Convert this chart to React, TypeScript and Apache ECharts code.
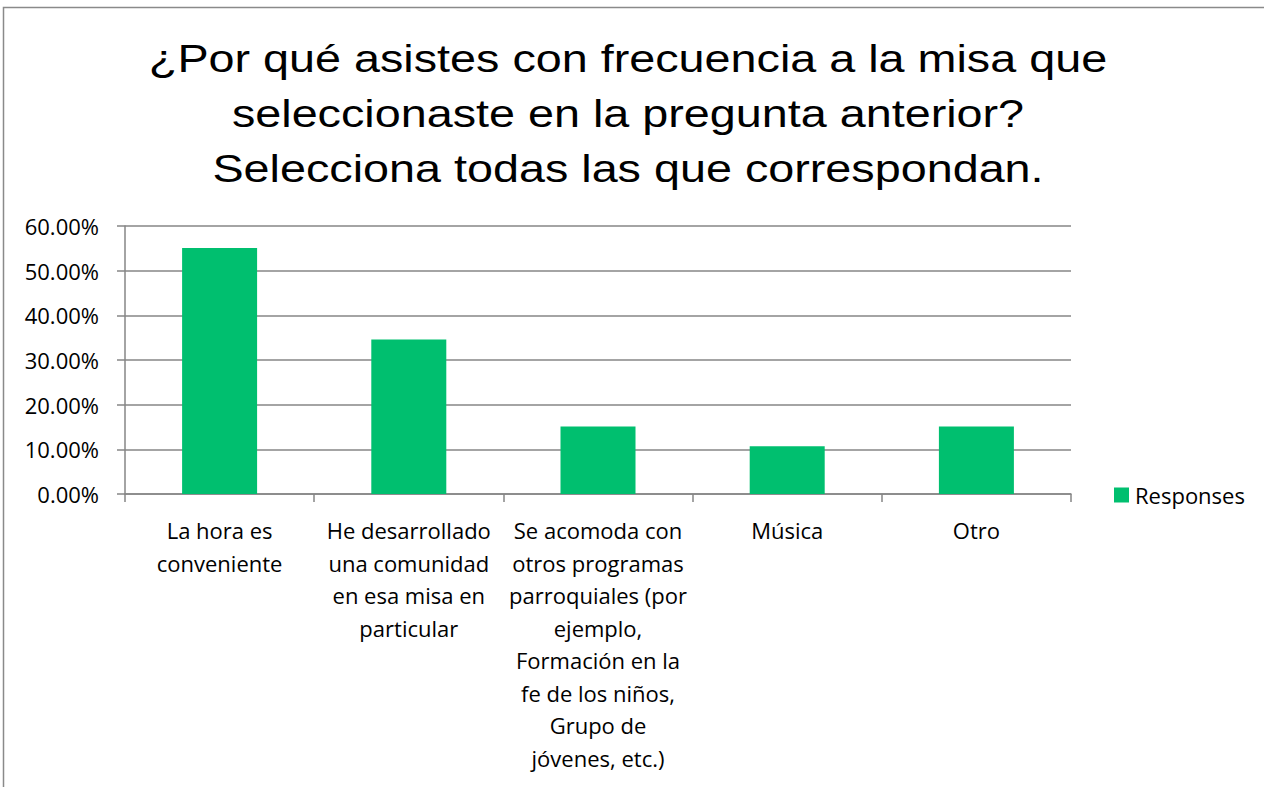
import React, { useEffect, useRef } from "react";
import * as echarts from "echarts";

const titleLines = [
  "¿Por qué asistes con frecuencia a la misa que",
  "seleccionaste en la pregunta anterior?",
  "Selecciona todas las que correspondan.",
];
const categories = [
  "La hora es\nconveniente",
  "He desarrollado\nuna comunidad\nen esa misa en\nparticular",
  "Se acomoda con\notros programas\nparroquiales (por\nejemplo,\nFormación en la\nfe de los niños,\nGrupo de\njóvenes, etc.)",
  "Música",
  "Otro",
];
const responses = [0.551, 0.346, 0.151, 0.107, 0.151];
const seriesName = "Responses";
const yTicks = { min: 0, max: 0.6, interval: 0.1 };

const LABEL_FONT = "'Open Sans', Lato, sans-serif";

export default function App() {
  const ref = useRef<HTMLDivElement>(null);
  useEffect(() => {
    if (!ref.current) return;
    const chart = echarts.init(ref.current, null, { renderer: "svg" });
    chart.setOption({
      animation: false,
      backgroundColor: "#ffffff",
      graphic: [
        {
          type: "rect",
          shape: { x: 3.5, y: 7.5, width: 1400, height: 900 },
          style: { fill: "none", stroke: "#8a8a8a", lineWidth: 1.5 },
          silent: true,
        },
        {
          type: "text",
          x: 628,
          y: 31,
          scaleX: 1.23,
          style: {
            text: titleLines.join("\n"),
            font: "38px 'Liberation Sans', Arial, sans-serif",
            fill: "#000000",
            textAlign: "center",
            textVerticalAlign: "top",
            lineHeight: 55,
          },
        },
      ],
      legend: {
        data: [seriesName],
        left: 1114,
        top: 484,
        padding: 0,
        icon: "rect",
        itemWidth: 15,
        itemHeight: 15,
        itemGap: 6,
        textStyle: { fontSize: 22, fontFamily: LABEL_FONT, color: "#000", lineHeight: 15, padding: [0, 0, 0, 1] },
      },
      grid: { left: 125, right: 193, top: 226, bottom: 293, containLabel: false },
      xAxis: {
        type: "category",
        data: categories,
        axisLine: { lineStyle: { color: "#868686", width: 1.5 } },
        axisTick: { show: true, length: 8, interval: 0, lineStyle: { color: "#868686", width: 1.5 } },
        axisLabel: {
          interval: 0,
          margin: 20,
          fontSize: 22,
          lineHeight: 32.5,
          fontFamily: LABEL_FONT,
          color: "#000",
          align: "center",
        },
      },
      yAxis: {
        type: "value",
        min: yTicks.min,
        max: yTicks.max,
        interval: yTicks.interval,
        axisLine: { show: true, lineStyle: { color: "#868686", width: 1.5 } },
        axisTick: { show: true, length: 8, lineStyle: { color: "#868686", width: 1.5 } },
        splitLine: { show: true, lineStyle: { color: "#868686", width: 1.5 } },
        axisLabel: {
          margin: 26,
          fontSize: 22,
          fontFamily: LABEL_FONT,
          color: "#000",
          formatter: (v: number) => (v * 100).toFixed(2) + "%",
        },
      },
      series: [
        {
          name: seriesName,
          type: "bar",
          data: responses,
          barWidth: 75,
          itemStyle: { color: "#00BF6F" },
        },
      ],
    });
    return () => chart.dispose();
  }, []);
  return (
    <div
      ref={ref}
      style={{ position: "fixed", left: 0, top: 0, width: 1264, height: 787, background: "#fff" }}
    />
  );
}
